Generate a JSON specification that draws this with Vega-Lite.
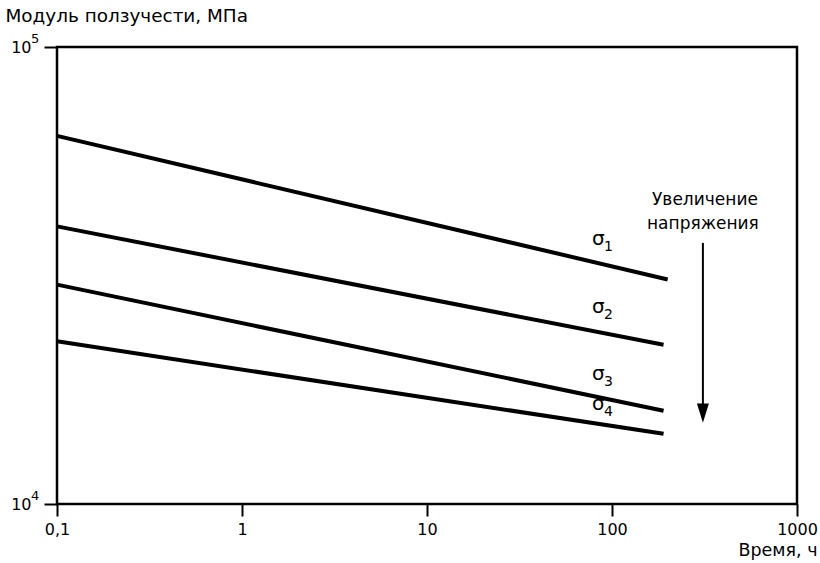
{
  "$schema": "https://vega.github.io/schema/vega-lite/v6.json",
  "width": 740,
  "height": 457,
  "autosize": {"type": "none"},
  "padding": {"left": 57, "top": 47, "right": 23, "bottom": 59},
  "background": "white",
  "config": {
    "view": {"stroke": "black", "strokeWidth": 2.5},
    "font": "DejaVu Sans",
    "axis": {
      "grid": false,
      "domain": false,
      "tickColor": "black",
      "tickWidth": 2,
      "labelColor": "black",
      "titleColor": "black",
      "labelFont": "DejaVu Sans",
      "titleFont": "DejaVu Sans",
      "labelFontSize": 16,
      "titleFontSize": 18.4,
      "titleFontWeight": "normal"
    }
  },
  "datasets": {
    "curves": [
      {"series": "s1", "t": 0.1, "E": 63900},
      {"series": "s1", "t": 200, "E": 31000},
      {"series": "s2", "t": 0.1, "E": 40500},
      {"series": "s2", "t": 190, "E": 22300},
      {"series": "s3", "t": 0.1, "E": 30200},
      {"series": "s3", "t": 190, "E": 16000},
      {"series": "s4", "t": 0.1, "E": 22700},
      {"series": "s4", "t": 190, "E": 14240}
    ],
    "labels": [
      {"sym": "σ", "sub": "1", "t": 78, "E": 36880},
      {"sym": "σ", "sub": "2", "t": 78, "E": 26180},
      {"sym": "σ", "sub": "3", "t": 78, "E": 18680},
      {"sym": "σ", "sub": "4", "t": 78, "E": 16060}
    ],
    "note": [
      {"line": "Увеличение", "t": 318, "E": 46300},
      {"line": "напряжения", "t": 310, "E": 41000}
    ],
    "arrow": [
      {"t": 310, "E1": 37270, "E2": 16200, "head": 15800}
    ],
    "exps": [
      {"exp": "4", "t": 0.1, "E": 10000},
      {"exp": "5", "t": 0.1, "E": 100000}
    ]
  },
  "layer": [
    {
      "data": {"name": "curves"},
      "mark": {"type": "line", "stroke": "black", "strokeWidth": 4, "strokeCap": "butt"},
      "encoding": {
        "x": {
          "field": "t", "type": "quantitative",
          "scale": {"type": "log", "domain": [0.1, 1000]},
          "axis": {
            "values": [0.1, 1, 10, 100, 1000],
            "labelExpr": "datum.value < 0.5 ? '0,1' : format(datum.value, 'd')",
            "tickSize": 12,
            "labelPadding": 5,
            "labelFlush": false,
            "title": "Время, ч",
            "titleFontSize": 17.5,
            "titleAnchor": "end",
            "titleAlign": "right",
            "titleX": 760,
            "titleY": 51,
            "titleBaseline": "alphabetic"
          }
        },
        "y": {
          "field": "E", "type": "quantitative",
          "scale": {"type": "log", "domain": [10000, 100000]},
          "axis": {
            "values": [10000, 100000],
            "labelExpr": "'10'",
            "tickSize": 13,
            "labelPadding": 13,
            "labelFlush": false,
            "labelFontSize": 16,
            "title": "Модуль ползучести, МПа",
            "titleAngle": 0,
            "titleAlign": "left",
            "titleAnchor": "start",
            "titleX": -52,
            "titleY": -26,
            "titleBaseline": "alphabetic"
          }
        },
        "detail": {"field": "series"}
      }
    },
    {
      "data": {"name": "exps"},
      "mark": {"type": "text", "fontSize": 13, "color": "black", "align": "left", "baseline": "alphabetic", "dx": -26, "dy": -4},
      "encoding": {
        "x": {"field": "t", "type": "quantitative"},
        "y": {"field": "E", "type": "quantitative"},
        "text": {"field": "exp"}
      }
    },
    {
      "data": {"name": "labels"},
      "mark": {"type": "text", "fontSize": 20, "color": "black", "align": "left", "baseline": "alphabetic"},
      "encoding": {
        "x": {"field": "t", "type": "quantitative"},
        "y": {"field": "E", "type": "quantitative"},
        "text": {"field": "sym"}
      }
    },
    {
      "data": {"name": "labels"},
      "mark": {"type": "text", "fontSize": 14, "color": "black", "align": "left", "baseline": "alphabetic", "dx": 12, "dy": 6},
      "encoding": {
        "x": {"field": "t", "type": "quantitative"},
        "y": {"field": "E", "type": "quantitative"},
        "text": {"field": "sub"}
      }
    },
    {
      "data": {"name": "note"},
      "mark": {"type": "text", "fontSize": 17, "color": "black", "align": "center", "baseline": "middle"},
      "encoding": {
        "x": {"field": "t", "type": "quantitative"},
        "y": {"field": "E", "type": "quantitative"},
        "text": {"field": "line"}
      }
    },
    {
      "data": {"name": "arrow"},
      "mark": {"type": "rule", "stroke": "black", "strokeWidth": 2},
      "encoding": {
        "x": {"field": "t", "type": "quantitative"},
        "y": {"field": "E1", "type": "quantitative"},
        "y2": {"field": "E2"}
      }
    },
    {
      "data": {"name": "arrow"},
      "mark": {"type": "point", "shape": "M-1,-1.6L1,-1.6L0,1.6Z", "filled": true, "color": "black", "opacity": 1, "size": 144},
      "encoding": {
        "x": {"field": "t", "type": "quantitative"},
        "y": {"field": "head", "type": "quantitative"}
      }
    }
  ]
}
